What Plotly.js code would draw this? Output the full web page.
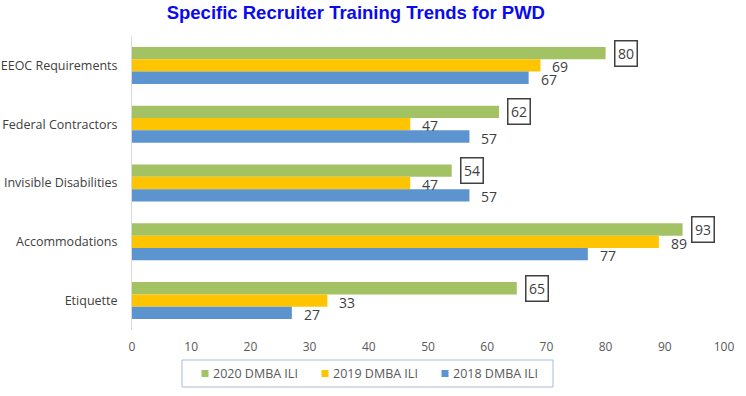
<!DOCTYPE html>
<html>
<head>
<meta charset="utf-8">
<script src="https://cdn.plot.ly/plotly-3.0.1.min.js"></script>
<style>html,body{margin:0;padding:0;background:#fff;}#chart{width:746px;height:396px;}</style>
</head>
<body>
<div id="chart"></div>
<script>
const categories = ["EEOC Requirements", "Federal Contractors", "Invisible Disabilities", "Accommodations", "Etiquette"];
const seriesNames = ["2020 DMBA ILI", "2019 DMBA ILI", "2018 DMBA ILI"];
const values2020 = [80, 62, 54, 93, 65];
const values2019 = [69, 47, 47, 89, 33];
const values2018 = [67, 57, 57, 77, 27];
const xTicks = [0, 10, 20, 30, 40, 50, 60, 70, 80, 90, 100];

const colors = ["#A3C264", "#FFC400", "#5B94CE"];
const allValues = [values2020, values2019, values2018];
const bargap = 0.37;
const slot = (1 - bargap) / 3;

// plot-area geometry in pixels (used to convert legend placement to paper coords)
const W = 746, H = 396, mL = 132, mR = 22, mT = 36, mB = 66;
const pw = W - mL - mR, ph = H - mT - mB;
const px = p => (p - mL) / pw;
const py = p => (H - mB - p) / ph;

const traces = allValues.map((vals, i) => ({
  type: "bar",
  orientation: "h",
  name: seriesNames[i],
  x: vals,
  y: categories,
  marker: {color: colors[i]},
  hoverinfo: "x+name",
  showlegend: false
}));

const annotations = [];
allValues.forEach((vals, s) => {
  vals.forEach((v, c) => {
    const ann = {
      x: v, y: c + (s - 1) * slot, xref: "x", yref: "y",
      text: String(v), showarrow: false, xshift: 20,
      font: {family: "Open Sans", size: 14, color: "#404040"},
      xanchor: "center", yanchor: "middle"
    };
    if (s === 0) {
      ann.bordercolor = "#404040";
      ann.borderwidth = 1.5;
      ann.borderpad = 2.5;
      ann.bgcolor = "rgba(255,255,255,0)";
    } else {
      ann.yshift = s === 1 ? -1.5 : -1.5;
    }
    annotations.push(ann);
  });
});

// legend (drawn as a framed row of swatches + labels)
const shapes = [{
  type: "rect", xref: "paper", yref: "paper",
  x0: px(182), x1: px(553), y0: py(387), y1: py(360),
  line: {color: "#A9BCD6", width: 1}, fillcolor: "rgba(0,0,0,0)"
}];
seriesNames.forEach((name, i) => {
  const cx = 205 + i * 120;
  shapes.push({
    type: "rect", xref: "paper", yref: "paper",
    x0: px(cx - 3.5), x1: px(cx + 3.5), y0: py(377), y1: py(370),
    line: {width: 0}, fillcolor: colors[i]
  });
  annotations.push({
    xref: "paper", yref: "paper", x: px(cx + 6), y: py(373.5),
    text: name, showarrow: false, xanchor: "left", yanchor: "middle",
    font: {family: "Open Sans", size: 12.5, color: "#595959"}
  });
});

const layout = {
  width: W, height: H,
  margin: {l: mL, r: mR, t: mT, b: mB},
  paper_bgcolor: "#ffffff", plot_bgcolor: "#ffffff",
  title: {
    text: "Specific Recruiter Training Trends for PWD",
    font: {family: "Liberation Sans", size: 18.5, color: "#0A0AF0", weight: "bold"},
    x: 0.477, xanchor: "center", y: 0.968, yanchor: "middle"
  },
  barmode: "group", bargap: bargap, bargroupgap: 0,
  xaxis: {
    range: [0, 100], tickvals: xTicks, ticktext: xTicks.map(String),
    showgrid: false, zeroline: false, showline: false, ticks: "",
    tickfont: {family: "Open Sans", size: 12, color: "#595959"},
    ticklabelstandoff: 8, fixedrange: true
  },
  yaxis: {
    type: "category", autorange: "reversed",
    showgrid: false, zeroline: false, showline: true, linecolor: "#D9D9D9", linewidth: 1,
    ticks: "", ticklabelstandoff: 11,
    tickfont: {family: "Open Sans", size: 12.5, color: "#404040"}, fixedrange: true
  },
  showlegend: false,
  shapes: shapes,
  annotations: annotations
};

Plotly.newPlot("chart", traces, layout, {displayModeBar: false, staticPlot: true});
</script>
</body>
</html>
